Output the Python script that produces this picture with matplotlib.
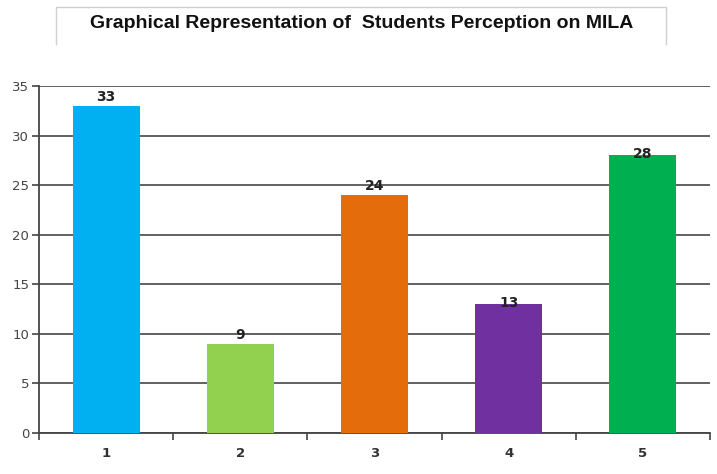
import matplotlib.pyplot as plt
from matplotlib.lines import Line2D

# data
categories = ["1", "2", "3", "4", "5"]
counts = [33, 9, 24, 13, 28]
bar_colors = ["#00B0F0", "#92D050", "#E46C0A", "#7030A0", "#00B050"]
title = "Graphical Representation of  Students Perception on MILA"

# label offsets above bar tops (data units), as in the original
label_offsets = [0.9, 0.9, 0.9, 0.1, 0.15]

fig = plt.figure(figsize=(7.17, 4.74), dpi=100)
ax = fig.add_axes([39 / 717, 1 - 433 / 474, 671 / 717, (433 - 86) / 474])

x = list(range(1, len(counts) + 1))
ax.bar(x, counts, width=0.5, color=bar_colors, zorder=3)

for xi, v, off in zip(x, counts, label_offsets):
    ax.text(xi, v + off, str(v), ha="center", va="center",
            fontsize=10, fontweight="bold", color="#222222", zorder=4)

ax.set_xlim(0.5, 5.5)
ax.set_ylim(0, 35)
ax.set_yticks(range(0, 36, 5))
ax.grid(axis="y", color="#555555", linewidth=1.3, zorder=0)

# category labels centred, ticks at the boundaries
ax.set_xticks(x)
ax.set_xticklabels(categories, fontweight="bold", fontsize=9.5, color="#333333")
ax.tick_params(axis="x", which="major", length=0, pad=10)
ax.set_xticks([i + 0.5 for i in range(0, len(counts) + 1)], minor=True)
ax.tick_params(axis="x", which="minor", length=5, width=1.2, color="#444444", direction="out")
ax.tick_params(axis="y", length=5, width=1.2, color="#444444", labelsize=9.5,
               labelcolor="#444444", pad=2)

for s in ["top", "right"]:
    ax.spines[s].set_visible(False)
ax.spines["left"].set_color("#444444")
ax.spines["left"].set_linewidth(1.3)
ax.spines["bottom"].set_color("#444444")
ax.spines["bottom"].set_linewidth(1.3)

# title box (open at the bottom)
bx0, bx1 = 56 / 717, 666 / 717
by0, by1 = 1 - 44 / 474, 1 - 7 / 474
fig.lines.append(Line2D([bx0, bx0, bx1, bx1], [by0, by1, by1, by0],
                        transform=fig.transFigure, color="#D0D0D0", linewidth=1.0))
fig.text(362 / 717, 1 - 24 / 474, title, ha="center", va="center",
         fontsize=14.0, fontweight="bold", family="Liberation Sans", color="#111111")

fig.savefig("out.png", dpi=100)
